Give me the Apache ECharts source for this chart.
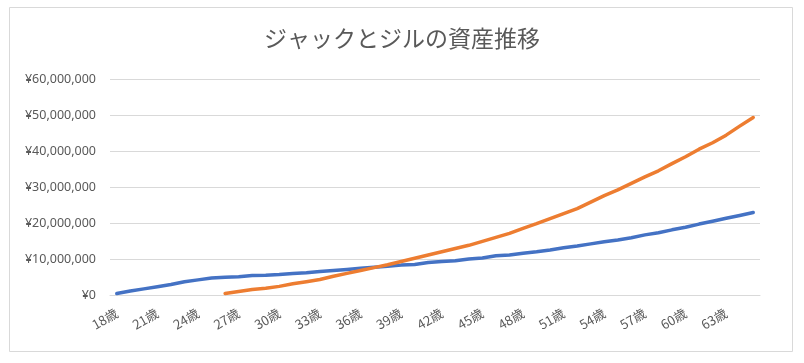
<!DOCTYPE html>
<html><head><meta charset="utf-8">
<script src="https://cdn.jsdelivr.net/npm/echarts@6/dist/echarts.min.js"></script>
<style>html,body{margin:0;padding:0;background:#fff}#c{width:804px;height:363px}</style>
</head><body><div id="c"></div>
<script>
const ages = [];
for (let a = 18; a <= 65; a++) ages.push(a + '歳');
// Values in yen (millions)
const jackM = [0.4,1.1,1.7,2.3,2.9,3.7,4.2,4.7,4.9,5.1,5.4,5.5,5.7,6.0,6.2,6.5,6.8,7.1,7.4,7.7,8.0,8.3,8.5,9.0,9.3,9.5,10.0,10.3,10.9,11.1,11.6,12.0,12.5,13.1,13.6,14.2,14.8,15.3,15.9,16.7,17.3,18.1,18.8,19.7,20.5,21.3,22.1,22.9];
const jillM = [null,null,null,null,null,null,null,null,0.4,1.0,1.5,1.9,2.4,3.1,3.7,4.3,5.2,6.0,6.8,7.6,8.4,9.3,10.2,11.1,12.0,12.9,13.8,14.9,16.0,17.1,18.5,19.8,21.2,22.6,24.0,25.8,27.6,29.2,31.0,32.8,34.5,36.5,38.4,40.5,42.3,44.4,46.9,49.3];
const titleText = 'ジャックとジルの資産推移';
const yMax = 60000000, yStep = 10000000;

const toYen = v => v == null ? null : Math.round(v * 1000000);
const fmt = v => '¥' + v.toString().replace(/\B(?=(\d{3})+(?!\d))/g, ',');

const chart = echarts.init(document.getElementById('c'), null, {renderer: 'canvas'});
chart.setOption({
  animation: false,
  backgroundColor: '#fff',
  title: {
    text: titleText, left: 'center', top: 22,
    textStyle: {fontFamily: 'Noto Sans CJK JP', fontSize: 23, fontWeight: 'normal', color: '#595959'}
  },
  graphic: [{type: 'rect', shape: {x: 9.5, y: 7.5, width: 783, height: 344}, style: {fill: 'none', stroke: '#d9d9d9', lineWidth: 1}, silent: true}],
  grid: {left: 110, right: 44, top: 79, bottom: 68},
  xAxis: {
    type: 'category', data: ages, boundaryGap: true,
    axisLine: {lineStyle: {color: '#d9d9d9'}},
    axisTick: {show: false},
    axisLabel: {interval: 2, rotate: 30, margin: 17, color: '#595959', fontSize: 13, fontFamily: 'Noto Sans CJK JP'}
  },
  yAxis: {
    type: 'value', min: 0, max: yMax, interval: yStep,
    axisLine: {show: false}, axisTick: {show: false},
    splitLine: {lineStyle: {color: '#d9d9d9'}},
    axisLabel: {formatter: fmt, color: '#595959', fontSize: 12.5, margin: 14, fontFamily: 'Noto Sans'}
  },
  series: [
    {name: 'ジャック', type: 'line', data: jackM.map(toYen), symbol: 'none', smooth: false,
     lineStyle: {color: '#4472C4', width: 3.5, cap: 'round', join: 'round'}},
    {name: 'ジル', type: 'line', data: jillM.map(toYen), symbol: 'none', smooth: false,
     lineStyle: {color: '#ED7D31', width: 3.5, cap: 'round', join: 'round'}}
  ]
});
</script></body></html>
